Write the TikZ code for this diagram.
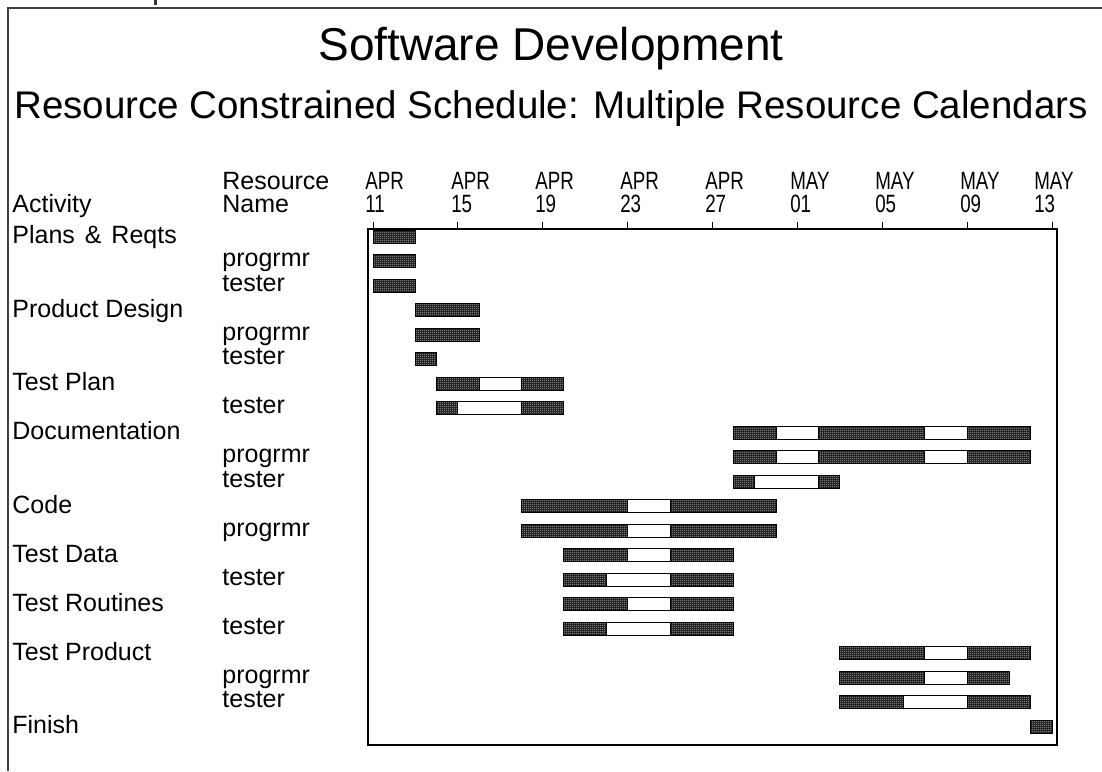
\documentclass[tikz,border=0pt]{standalone}
\usepackage{fontspec}
\setmainfont{Liberation Sans}
\usetikzlibrary{patterns}

% fine white-dot screen laid over the black schedule bars
\pgfdeclarepatternformonly{bardots}{\pgfqpoint{0pt}{0pt}}{\pgfqpoint{1pt}{1pt}}{\pgfqpoint{1pt}{1pt}}{%
  \pgfpathrectangle{\pgfqpoint{0.25pt}{0.25pt}}{\pgfqpoint{0.5pt}{0.5pt}}%
  \pgfusepath{fill}}

\tikzset{
  darkbar/.style={preaction={fill=black!90}, pattern=bardots, pattern color=white, draw=black, line width=0.5pt},
  lightbar/.style={fill=white, draw=black, line width=0.5pt},
  lbl/.style={inner sep=0pt, anchor=base west, font=\fontsize{12.5pt}{14pt}\selectfont},
  datelbl/.style={inner sep=0pt, anchor=base west, font=\fontsize{12.5pt}{14pt}\selectfont, xscale=0.75},
}

\begin{document}
\begin{tikzpicture}[x=0.5pt, y=-0.5pt]
\useasboundingbox (0,0) rectangle (1102,771);

% page frame and clipped line above it
\draw[black!75, line width=1pt] (8,771) -- (8,8) -- (1102,8);
\fill[black!80] (154,0) rectangle (157,5);

% titles
\node[inner sep=0pt, anchor=base, font=\fontsize{23pt}{27pt}\selectfont] (title) at (551,60) {Software Development};
\node[inner sep=0pt, anchor=base, font=\fontsize{19.25pt}{23pt}\selectfont] (subtitle) at (551,118) {Resource Constrained Schedule: Multiple Resource Calendars};

% column headings
\node[lbl] (hact) at (12,212) {Activity};
\node[lbl] (hres1) at (222,189) {Resource};
\node[lbl] (hres2) at (222,212) {Name};

% time axis: ticks every four days, 21.22 units per day from APR 11
% (label x = left edge of the two-line date label)
\foreach \k/\m/\d/\lx in {0/APR/11/365, 1/APR/15/451, 2/APR/19/535, 3/APR/23/620, 4/APR/27/705, 5/MAY/01/790, 6/MAY/05/875, 7/MAY/09/960, 8/MAY/13/1034}{
  \pgfmathsetmacro\tx{373+84.88*\k}
  \node[datelbl] (mon\k) at (\lx,189) {\m};
  \node[datelbl] (day\k) at (\lx,212) {\d};
  \draw[line width=0.5pt] (\tx,229) -- (\tx,222);
}

% chart frame
\draw[line width=1pt] (368,229) rectangle (1057,745);

% activity names
\foreach \r/\t in {0/Plans\ \hspace{1.5pt}\&\ \hspace{1.5pt}Reqts, 3/Product Design, 6/Test Plan, 8/Documentation, 11/Code, 13/Test Data, 15/Test Routines, 17/Test Product, 20/Finish}{
  \node[lbl] (act\r) at (12,{236.5+24.5*\r+7}) {\t};
}
% resource names
\foreach \r/\t in {1/progrmr, 2/tester, 4/progrmr, 5/tester, 7/tester, 9/progrmr, 10/tester, 12/progrmr, 14/tester, 16/tester, 18/progrmr, 19/tester}{
  \node[lbl] (res\r) at (222,{236.5+24.5*\r+5.5}) {\t};
}

% working periods (row/start day/end day)
\foreach \r/\a/\b in {0/0/2, 1/0/2, 2/0/2, 3/2/5, 4/2/5, 5/2/3,
  6/3/5, 6/7/9, 7/3/4, 7/7/9,
  8/17/19, 8/21/26, 8/28/31, 9/17/19, 9/21/26, 9/28/31, 10/17/18, 10/21/22,
  11/7/12, 11/14/19, 12/7/12, 12/14/19,
  13/9/12, 13/14/17, 14/9/11, 14/14/17,
  15/9/12, 15/14/17, 16/9/11, 16/14/17,
  17/22/26, 17/28/31, 18/22/26, 18/28/30, 19/22/25, 19/28/31,
  20/31/32}{
  \path[darkbar] ({373+21.22*\a},{236.5+24.5*\r-6.5}) rectangle ({373+21.22*\b},{236.5+24.5*\r+6.5});
}
% non-working calendar gaps inside an activity
\foreach \r/\a/\b in {6/5/7, 7/4/7,
  8/19/21, 8/26/28, 9/19/21, 9/26/28, 10/18/21,
  11/12/14, 12/12/14, 13/12/14, 14/11/14, 15/12/14, 16/11/14,
  17/26/28, 18/26/28, 19/25/28}{
  \path[lightbar] ({373+21.22*\a},{236.5+24.5*\r-6.5}) rectangle ({373+21.22*\b},{236.5+24.5*\r+6.5});
}
\end{tikzpicture}
\end{document}
